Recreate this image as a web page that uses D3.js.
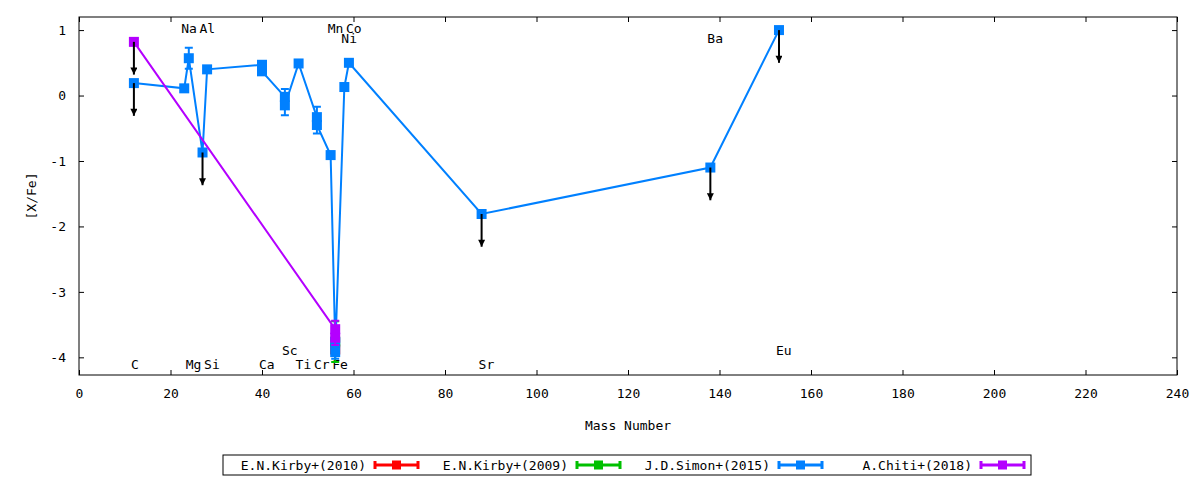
<!DOCTYPE html>
<html>
<head>
<meta charset="utf-8">
<script src="https://cdn.jsdelivr.net/npm/d3@7"></script>
<style>
body { margin: 0; background: #fff; }
svg text { font-family: "DejaVu Sans Mono", monospace; font-size: 13px; fill: #000; }
</style>
</head>
<body>
<svg width="1200" height="480"></svg>
<script>
// E.N.Kirby+(2010)
const kirby10Mass = [56];
const kirby10Val = [-3.88];
const kirby10Err = [0.05];
const kirby10Lim = [false];

// E.N.Kirby+(2009)
const kirby09Mass = [56];
const kirby09Val = [-3.76];
const kirby09Err = [0.31];
const kirby09Lim = [false];

// J.D.Simon+(2015)
const simonMass = [12, 23, 24, 27, 28, 40, 40, 45, 45, 48, 52, 52, 55, 56, 56, 58, 59, 88, 138, 153];
const simonVal = [0.19, 0.11, 0.57, -0.87, 0.40, 0.47, 0.37, -0.02, -0.15, 0.49, -0.33, -0.45, -0.91, -3.77, -3.92, 0.13, 0.50, -1.81, -1.10, 1.00];
const simonErr = [0, 0, 0.16, 0, 0.05, 0.05, 0.05, 0.12, 0.15, 0.05, 0.16, 0.13, 0.05, 0.1, 0.1, 0.05, 0.05, 0, 0, 0];
const simonLim = [true, false, false, true, false, false, false, false, false, false, false, false, false, false, false, false, false, true, true, true];

// A.Chiti+(2018)
const chitiMass = [12, 56, 56];
const chitiVal = [0.82, -3.57, -3.70];
const chitiErr = [0, 0.13, 0.11];
const chitiLim = [true, false, false];

// element labels
const elemNames = ["C", "Na", "Mg", "Al", "Si", "Ca", "Sc", "Ti", "Cr", "Mn", "Fe", "Co", "Ni", "Sr", "Ba", "Eu"];
const elemMass = [12, 23, 24, 27, 28, 40, 45, 48, 52, 55, 56, 59, 58, 88, 138, 153];
const elemLabelY = [-4.1, 1.03, -4.1, 1.03, -4.1, -4.1, -3.89, -4.1, -4.1, 1.03, -4.1, 1.03, 0.88, -4.1, 0.88, -3.89];

const xTicks = [0, 20, 40, 60, 80, 100, 120, 140, 160, 180, 200, 220, 240];
const yTicks = [-4, -3, -2, -1, 0, 1];

const makeSeries = (name, color, mass, val, err, lim) => ({
  name: name, color: color,
  points: mass.map((m, i) => ({ m: m, v: val[i], e: err[i], lim: lim[i] }))
});

const series = [
  makeSeries("E.N.Kirby+(2010)", "#ff0000", kirby10Mass, kirby10Val, kirby10Err, kirby10Lim),
  makeSeries("E.N.Kirby+(2009)", "#00c000", kirby09Mass, kirby09Val, kirby09Err, kirby09Lim),
  makeSeries("J.D.Simon+(2015)", "#0080ff", simonMass, simonVal, simonErr, simonLim),
  makeSeries("A.Chiti+(2018)", "#b400ff", chitiMass, chitiVal, chitiErr, chitiLim)
];

const pl = 79, pr = 1177, pt = 17, pb = 375;
const svg = d3.select("svg");

const x = d3.scaleLinear().domain([0, 240]).range([pl, pr]);
const y = d3.scaleLinear().domain([-4.27, 1.2]).range([pb, pt]);
const plain = d => String(d);

// axes with inward ticks, mirrored on top and right
const tick = 5;
svg.append("g").attr("transform", `translate(0,${pb})`)
  .call(d3.axisBottom(x).tickValues(xTicks).tickFormat(plain).tickSizeInner(-tick).tickSizeOuter(0).tickPadding(14))
  .call(g => g.select(".domain").remove());
svg.append("g").attr("transform", `translate(0,${pt})`)
  .call(d3.axisTop(x).tickValues(xTicks).tickSizeInner(-tick).tickSizeOuter(0).tickFormat(""))
  .call(g => g.select(".domain").remove());
svg.append("g").attr("transform", `translate(${pl},0)`)
  .call(d3.axisLeft(y).tickValues(yTicks).tickFormat(plain).tickSizeInner(-tick).tickSizeOuter(0).tickPadding(13))
  .call(g => g.select(".domain").remove());
svg.append("g").attr("transform", `translate(${pr},0)`)
  .call(d3.axisRight(y).tickValues(yTicks).tickSizeInner(-tick).tickSizeOuter(0).tickFormat(""))
  .call(g => g.select(".domain").remove());

svg.selectAll(".tick line").attr("stroke", "#000");
svg.selectAll(".tick text").style("font-size", "13px").style("font-family", '"DejaVu Sans Mono", monospace');

svg.append("rect")
  .attr("x", pl).attr("y", pt)
  .attr("width", pr - pl).attr("height", pb - pt)
  .attr("fill", "none").attr("stroke", "#000").attr("stroke-width", 1);

// axis titles
svg.append("text").attr("x", (pl + pr) / 2).attr("y", 430)
  .attr("text-anchor", "middle").text("Mass Number");
svg.append("text")
  .attr("transform", "translate(36,196) rotate(-90)")
  .attr("text-anchor", "middle").text("[X/Fe]");

// element labels
svg.append("g").selectAll("text")
  .data(elemNames)
  .enter()
  .append("text")
  .attr("x", (d, i) => x(elemMass[i]) - 3)
  .attr("y", (d, i) => y(elemLabelY[i]) + 5)
  .text(d => d);

// series
const line = d3.line().x(d => x(d.m)).y(d => y(d.v));
const ms = 10, cap = 4;

series.forEach(s => {
  const g = svg.append("g");
  g.append("path")
    .attr("d", line(s.points))
    .attr("fill", "none")
    .attr("stroke", s.color)
    .attr("stroke-width", 2);

  const bars = s.points.filter(p => p.e > 0);
  g.selectAll(".eb").data(bars).enter().append("path")
    .attr("d", p => {
      const cx = x(p.m), y1 = y(p.v + p.e), y2 = y(p.v - p.e);
      return `M${cx},${y1}V${y2}M${cx - cap},${y1}H${cx + cap}M${cx - cap},${y2}H${cx + cap}`;
    })
    .attr("fill", "none")
    .attr("stroke", s.color)
    .attr("stroke-width", 2);

  g.selectAll("rect").data(s.points).enter().append("rect")
    .attr("x", p => x(p.m) - ms / 2)
    .attr("y", p => y(p.v) - ms / 2)
    .attr("width", ms).attr("height", ms)
    .attr("fill", s.color);
});

// upper limit arrows
svg.append("defs").append("marker")
  .attr("id", "head")
  .attr("viewBox", "0 0 10 10")
  .attr("refX", 10).attr("refY", 5)
  .attr("markerWidth", 8).attr("markerHeight", 7)
  .attr("markerUnits", "userSpaceOnUse")
  .attr("orient", "auto")
  .append("path").attr("d", "M0,0L10,5L0,10Z").attr("fill", "#000");

const limits = [];
series.forEach(s => s.points.forEach(p => { if (p.lim) limits.push(p); }));
svg.append("g").selectAll("line")
  .data(limits)
  .enter()
  .append("line")
  .attr("x1", p => x(p.m)).attr("x2", p => x(p.m))
  .attr("y1", p => y(p.v)).attr("y2", p => y(p.v - 0.5))
  .attr("stroke", "#000")
  .attr("stroke-width", 2)
  .attr("marker-end", "url(#head)");

// legend
const lg = svg.append("g");
lg.append("rect")
  .attr("x", 223).attr("y", 455).attr("width", 808).attr("height", 20)
  .attr("fill", "#fff").attr("stroke", "#000");
series.forEach((s, i) => {
  const tx = 366 + i * 202;
  lg.append("text").attr("x", tx).attr("y", 469.5)
    .attr("text-anchor", "end").text(s.name);
  const x0 = tx + 9, x1 = tx + 52, ly = 465;
  lg.append("path")
    .attr("d", `M${x0},${ly}H${x1}M${x0},${ly - 4}V${ly + 4}M${x1},${ly - 4}V${ly + 4}`)
    .attr("stroke", s.color).attr("stroke-width", 3).attr("fill", "none");
  lg.append("rect")
    .attr("x", (x0 + x1) / 2 - 4.5).attr("y", ly - 4.5)
    .attr("width", 9).attr("height", 9)
    .attr("fill", s.color);
});
</script>
</body>
</html>
